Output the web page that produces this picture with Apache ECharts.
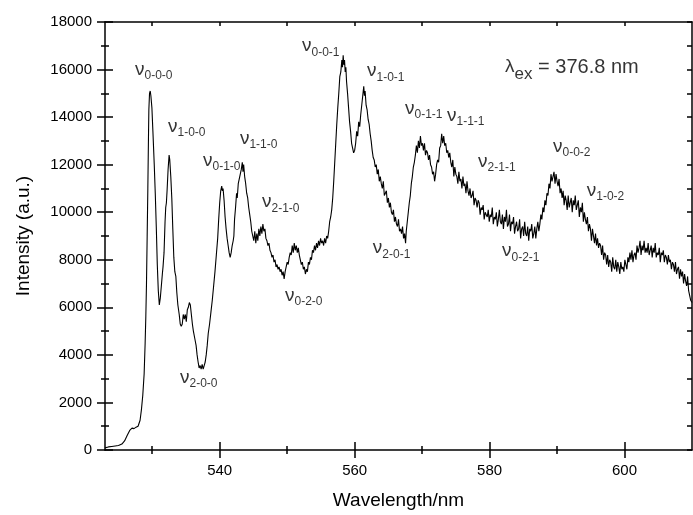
<!DOCTYPE html>
<html>
<head>
<meta charset="utf-8">
<script src="https://cdn.jsdelivr.net/npm/echarts@6/dist/echarts.min.js"></script>
<style>
  html, body { margin: 0; padding: 0; background: #fff; }
  #chart { width: 693px; height: 515px; }
</style>
</head>
<body>
<div id="chart"></div>
<script>
/* spectrum: [wavelength nm, intensity] */
const riseAndFirstBands = [
  [523.0, 90], [523.5, 130], [524.0, 150], [524.5, 170], [525.0, 190], [525.5, 250], [525.9, 380], [526.3, 620],
  [526.7, 840], [527.0, 920], [527.3, 900], [527.6, 960], [527.9, 1000], [528.2, 1250], [528.4, 1700], [528.6, 2300],
  [528.8, 3200], [528.95, 4500], [529.05, 5600], [529.15, 7000], [529.25, 9000], [529.35, 11000], [529.45, 13300],
  [529.5, 14300], [529.6, 15000], [529.7, 15100], [529.8, 14900], [529.95, 14400], [530.1, 13400], [530.3, 12000],
  [530.45, 10800], [530.6, 9400], [530.75, 7800], [530.9, 6700], [531.05, 6100], [531.2, 6400], [531.35, 6900],
  [531.5, 7400], [531.6, 7700], [531.75, 8300], [531.9, 9600], [532.0, 10200], [532.1, 10400], [532.2, 10900],
  [532.35, 11800], [532.5, 12400], [532.6, 12200], [532.75, 11500], [532.9, 10600], [533.05, 9300], [533.2, 8100],
  [533.35, 7500], [533.5, 7300], [533.65, 6600], [533.8, 6100], [534.0, 5700], [534.15, 5300], [534.3, 5200],
  [534.45, 5300], [534.6, 5700], [534.75, 5500], [534.9, 5700], [535.05, 5400], [535.2, 5900], [535.35, 6000],
  [535.5, 6200], [535.65, 6100], [535.8, 5700], [535.95, 5300], [536.1, 5000], [536.3, 4700], [536.5, 4400],
  [536.65, 4000], [536.8, 3700], [536.95, 3450], [537.1, 3550], [537.25, 3400], [537.4, 3600], [537.55, 3400],
  [537.7, 3550], [537.85, 3700], [538.0, 4000], [538.15, 4400], [538.3, 4900], [538.5, 5300], [538.7, 5800],
  [538.9, 6300], [539.1, 6900], [539.3, 7500], [539.5, 8200], [539.7, 8900], [539.85, 9700]
];

const secondGroup = [
  [540.0, 10400], [540.15, 10900], [540.3, 11100], [540.4, 10900], [540.5, 11000], [540.65, 10500], [540.8, 9800],
  [540.95, 9300], [541.1, 8900], [541.25, 8600], [541.4, 8300], [541.55, 8100], [541.7, 8300], [541.85, 8600],
  [542.0, 8800], [542.1, 9000], [542.2, 9700], [542.35, 10200], [542.5, 10800], [542.6, 10600], [542.75, 11200],
  [542.9, 11400], [543.05, 11600], [543.2, 11800], [543.35, 12100], [543.45, 11700], [543.55, 12000], [543.7, 11500],
  [543.85, 11200], [544.0, 10800], [544.15, 10600], [544.3, 10200], [544.45, 9900], [544.6, 9600], [544.75, 9200],
  [544.9, 9000], [545.05, 8800], [545.2, 9200], [545.35, 8700], [545.5, 9100], [545.65, 8800], [545.8, 9300],
  [545.95, 9000], [546.1, 9400], [546.25, 9100], [546.4, 9500], [546.55, 9200], [546.7, 9300], [546.85, 8900],
  [547.0, 8800], [547.15, 8600], [547.3, 8700], [547.45, 8400], [547.6, 8300], [547.75, 8100], [547.9, 8200],
  [548.05, 7900], [548.2, 8000], [548.35, 7700], [548.5, 7800], [548.65, 7600], [548.8, 7700], [548.95, 7500],
  [549.1, 7600], [549.25, 7350], [549.4, 7500], [549.55, 7200], [549.7, 7500], [549.85, 7700], [550.0, 7900],
  [550.15, 7800], [550.3, 8100], [550.45, 8300], [550.6, 8200], [550.75, 8600], [550.9, 8300], [551.05, 8700],
  [551.2, 8400], [551.35, 8600], [551.5, 8300], [551.65, 8500], [551.8, 8200], [551.95, 8000], [552.1, 7800],
  [552.25, 7900], [552.4, 7600], [552.55, 7700], [552.7, 7400], [552.85, 7600], [553.0, 7500], [553.15, 7900],
  [553.3, 7800], [553.45, 8100], [553.6, 8000], [553.75, 8400], [553.9, 8300], [554.05, 8600], [554.2, 8400],
  [554.35, 8700], [554.5, 8500], [554.65, 8800], [554.8, 8600], [554.95, 8900], [555.1, 8700], [555.25, 8800],
  [555.4, 8600], [555.55, 8900], [555.7, 8700], [555.85, 9000], [556.0, 8900], [556.15, 9200], [556.3, 9600],
  [556.45, 9800], [556.6, 10100], [556.75, 10600], [556.9, 11300]
];

const thirdGroup = [
  [557.05, 12100], [557.2, 12900], [557.35, 13700], [557.5, 14400], [557.65, 15000], [557.8, 15700], [557.95, 15900],
  [558.1, 16400], [558.2, 16100], [558.3, 16600], [558.4, 16200], [558.5, 16400], [558.6, 15900], [558.7, 16100],
  [558.8, 15500], [558.95, 15000], [559.1, 14400], [559.25, 13800], [559.4, 13400], [559.55, 12900], [559.7, 12700],
  [559.85, 12500], [560.0, 12600], [560.15, 12900], [560.3, 13400], [560.45, 13200], [560.6, 13800], [560.75, 13600],
  [560.9, 14100], [561.05, 14500], [561.2, 14900], [561.35, 15300], [561.45, 14900], [561.55, 15100], [561.7, 14500],
  [561.85, 14300], [562.0, 13900], [562.15, 13700], [562.3, 13300], [562.45, 13000], [562.6, 12600], [562.75, 12300],
  [562.9, 12200], [563.05, 11900], [563.2, 12000], [563.35, 11600], [563.5, 11800], [563.65, 11300], [563.8, 11500],
  [563.95, 11200], [564.1, 11000], [564.25, 11300], [564.4, 10700], [564.55, 10800], [564.7, 10900], [564.85, 10400],
  [565.0, 10600], [565.15, 10200], [565.3, 10400], [565.45, 10000], [565.6, 9900], [565.75, 10100], [565.9, 9600],
  [566.05, 9800], [566.2, 9500], [566.35, 9400], [566.5, 9700], [566.65, 9200], [566.8, 9300], [566.95, 9100],
  [567.1, 9400], [567.25, 8900], [567.4, 9100], [567.55, 8700], [567.65, 9200], [567.8, 9600], [567.95, 10000],
  [568.1, 10400], [568.25, 10700], [568.4, 11200], [568.55, 11500], [568.7, 11900], [568.85, 12100], [569.0, 12400],
  [569.15, 12800], [569.3, 12500], [569.45, 13000], [569.6, 12700], [569.75, 13200], [569.9, 12800], [570.05, 12900],
  [570.2, 12600], [570.35, 12900], [570.5, 12400], [570.65, 12600], [570.8, 12500], [570.95, 12200], [571.1, 12400],
  [571.25, 12000], [571.4, 11900], [571.55, 11600], [571.7, 11700], [571.85, 11300], [572.0, 11600], [572.15, 12000],
  [572.3, 12200], [572.45, 12100], [572.6, 12700], [572.75, 12800], [572.9, 13300], [573.05, 12900], [573.2, 13200],
  [573.35, 12800], [573.5, 12900], [573.65, 12500], [573.8, 12600], [573.95, 12300], [574.1, 12500], [574.25, 12100],
  [574.4, 11900], [574.55, 12200], [574.7, 11500], [574.85, 11900], [575.0, 11600], [575.15, 11500], [575.3, 11200],
  [575.45, 11700], [575.6, 11300], [575.75, 11400], [575.9, 11000], [576.05, 11500], [576.2, 11100], [576.35, 11200],
  [576.5, 10800], [576.65, 11300], [576.8, 10900], [576.95, 10700], [577.1, 11000], [577.25, 10600], [577.4, 10700],
  [577.55, 10900], [577.7, 10300], [577.85, 10600], [578.0, 10500], [578.15, 10200], [578.3, 10500], [578.45, 10400],
  [578.6, 9900], [578.75, 10200], [578.9, 10100], [579.05, 10300], [579.2, 9700], [579.35, 10000], [579.5, 9900],
  [579.65, 9800], [579.8, 10100], [579.95, 9600]
];

const tailGroup = [
  [580.1, 9900], [580.25, 9800], [580.4, 10200], [580.55, 9500], [580.7, 9800], [580.85, 9700], [581.0, 10000],
  [581.15, 9400], [581.3, 9700], [581.45, 10100], [581.6, 9600], [581.75, 9500], [581.9, 9900], [582.05, 9300],
  [582.2, 9800], [582.35, 9600], [582.5, 10100], [582.65, 9400], [582.8, 9500], [582.95, 9900], [583.1, 9200],
  [583.25, 9600], [583.4, 9500], [583.55, 9800], [583.7, 9100], [583.85, 9400], [584.0, 9600], [584.15, 9200],
  [584.3, 9300], [584.45, 9700], [584.6, 8900], [584.75, 9300], [584.9, 9400], [585.05, 9000], [585.2, 9600],
  [585.35, 9100], [585.5, 9000], [585.65, 9400], [585.8, 8800], [585.95, 9300], [586.1, 9200], [586.25, 9500],
  [586.4, 8900], [586.55, 9100], [586.7, 9400], [586.85, 8900], [587.0, 9300], [587.15, 9600], [587.3, 9200],
  [587.45, 9500], [587.6, 9900], [587.75, 9700], [587.9, 10200], [588.05, 10000], [588.2, 10500], [588.35, 10300],
  [588.5, 10800], [588.65, 10700], [588.8, 11200], [588.95, 11000], [589.1, 11600], [589.25, 11300], [589.4, 11500],
  [589.55, 11700], [589.7, 11200], [589.85, 11600], [590.0, 11300], [590.15, 11100], [590.3, 11400], [590.45, 10800],
  [590.6, 11000], [590.75, 10600], [590.9, 10900], [591.05, 10300], [591.2, 10700], [591.35, 10500], [591.5, 10100],
  [591.65, 10700], [591.8, 10200], [591.95, 10400], [592.1, 10600], [592.25, 10000], [592.4, 10500], [592.55, 10300],
  [592.7, 10700], [592.85, 10100], [593.0, 10300], [593.15, 10500], [593.3, 9800], [593.45, 10200], [593.6, 10000],
  [593.75, 10400], [593.9, 9600], [594.05, 10000], [594.2, 9700], [594.35, 9500], [594.5, 9800], [594.65, 9200],
  [594.8, 9500], [594.95, 9300], [595.1, 8800], [595.25, 9300], [595.4, 9000], [595.55, 8700], [595.7, 9100],
  [595.85, 8600], [596.0, 8900], [596.15, 8500], [596.3, 8700], [596.45, 8600], [596.6, 8200], [596.75, 8600],
  [596.9, 8000], [597.05, 8300], [597.2, 8200], [597.35, 7800], [597.5, 8200], [597.65, 7700], [597.8, 8000],
  [597.95, 7900], [598.1, 7500], [598.25, 8100], [598.4, 7700], [598.55, 7600], [598.7, 8000], [598.85, 7500],
  [599.0, 7900], [599.15, 7700], [599.3, 7400], [599.45, 7900], [599.6, 7600], [599.75, 7700], [599.9, 7500],
  [600.05, 8000], [600.2, 7800], [600.35, 7600], [600.5, 8100], [600.65, 7900], [600.8, 8300], [600.95, 8000],
  [601.1, 8400], [601.25, 7900], [601.4, 8200], [601.55, 8300], [601.7, 8000], [601.85, 8600], [602.0, 8300],
  [602.15, 8500], [602.3, 8800], [602.45, 8200], [602.6, 8600], [602.75, 8400], [602.9, 8800], [603.05, 8300],
  [603.2, 8500], [603.35, 8300], [603.5, 8700], [603.65, 8200], [603.8, 8400], [603.95, 8600], [604.1, 8100],
  [604.25, 8500], [604.4, 8300], [604.55, 8700], [604.7, 8100], [604.85, 8300], [605.0, 8200], [605.15, 8500],
  [605.3, 7900], [605.45, 8300], [605.6, 8200], [605.75, 8400], [605.9, 7900], [606.05, 8200], [606.2, 8100],
  [606.35, 7800], [606.5, 8200], [606.65, 7900], [606.8, 8000], [606.95, 7600], [607.1, 7900], [607.25, 7800],
  [607.4, 7500], [607.55, 7900], [607.7, 7400], [607.85, 7600], [608.0, 7700], [608.15, 7200], [608.3, 7600],
  [608.45, 7300], [608.6, 7500], [608.75, 7000], [608.9, 7400], [609.05, 7100], [609.2, 6900], [609.35, 7300],
  [609.5, 6700], [609.65, 6500], [609.8, 6300], [610.0, 6200]
];

/* band assignments and where they sit (left edge of the ν, in data units) */
const bandNames = ['0-0-0', '1-0-0', '0-1-0', '1-1-0', '2-1-0', '0-0-1', '1-0-1', '0-1-1',
  '1-1-1', '2-1-1', '0-0-2', '1-0-2', '2-0-0', '0-2-0', '2-0-1', '0-2-1'];
const bandX = [527.45, 532.34, 537.52, 543.0, 546.27, 552.2, 561.83, 567.46,
  573.69, 578.3, 589.4, 594.4, 534.12, 549.68, 562.7, 581.84];
const bandY = [16000, 13600, 12180, 13100, 10420, 16990, 15950, 14360,
  14060, 12140, 12770, 10920, 3050, 6490, 8500, 8370];

const excitation = { x: 582.3, y: 16100, text: '376.8 nm' };

/* ticks */
const xMajorTicks = [540, 560, 580, 600];
const xMinorTicks = [530, 550, 570, 590];
const xTopTicks = [530, 540, 550, 560, 570, 580, 590, 600];

const FONT = '"Liberation Sans", Arial, sans-serif';
const black = { color: '#000', width: 1.5 };

let myChart = echarts.init(document.getElementById('chart'));

let spectrum = riseAndFirstBands.concat(secondGroup, thirdGroup, tailGroup);

let labelPoints = bandNames.map((n, i) => ({
  value: [bandX[i], bandY[i]],
  label: { formatter: '{n|ν}{s|' + n + '}' }
}));
labelPoints.push({
  value: [excitation.x, excitation.y],
  label: { formatter: '{n|λ}{e|ex}{t| = ' + excitation.text + '}' }
});

function xAxisBase(extra) {
  return Object.assign({
    type: 'value',
    min: 523,
    max: 610,
    position: 'bottom',
    axisLine: { show: false, onZero: false, lineStyle: black },
    axisLabel: { show: false },
    splitLine: { show: false }
  }, extra);
}

function yAxisBase(extra) {
  return Object.assign({
    type: 'value',
    min: 0,
    max: 18000,
    interval: 2000,
    position: 'left',
    axisLine: { show: false, onZero: false, lineStyle: black },
    axisLabel: { show: false },
    splitLine: { show: false },
    minorSplitLine: { show: false }
  }, extra);
}

let option = {
  animation: false,
  backgroundColor: '#fff',
  grid: { left: 105, right: 1, top: 22, bottom: 63, containLabel: false },
  xAxis: [
    xAxisBase({
      axisLine: { show: true, onZero: false, lineStyle: black },
      axisTick: { show: true, inside: false, length: 8, customValues: xMajorTicks, lineStyle: black },
      axisLabel: { show: true, customValues: xMajorTicks, color: '#000', fontSize: 15, margin: 13, fontFamily: FONT },
      name: 'Wavelength/nm',
      nameLocation: 'middle',
      nameGap: 41,
      nameTextStyle: { color: '#000', fontSize: 19, fontFamily: FONT }
    }),
    xAxisBase({ axisTick: { show: true, inside: true, length: 8, customValues: xMajorTicks, lineStyle: black } }),
    xAxisBase({ axisTick: { show: true, inside: false, length: 4, customValues: xMinorTicks, lineStyle: black } }),
    xAxisBase({ axisTick: { show: true, inside: true, length: 4, customValues: xMinorTicks, lineStyle: black } }),
    xAxisBase({
      position: 'top',
      axisLine: { show: true, onZero: false, lineStyle: black },
      axisTick: { show: true, inside: true, length: 4, customValues: xTopTicks, lineStyle: black }
    })
  ],
  yAxis: [
    yAxisBase({
      axisLine: { show: true, onZero: false, lineStyle: black },
      axisTick: { show: true, inside: false, length: 8, lineStyle: black },
      minorTick: { show: true, splitNumber: 2, length: 4, lineStyle: black },
      axisLabel: {
        show: true, color: '#000', fontSize: 15, margin: 13, fontFamily: FONT,
        formatter: (v) => String(v)
      },
      name: 'Intensity (a.u.)',
      nameLocation: 'middle',
      nameGap: 72,
      nameRotate: 90,
      nameTextStyle: { color: '#000', fontSize: 19, fontFamily: FONT }
    }),
    yAxisBase({
      axisTick: { show: true, inside: true, length: 8, lineStyle: black },
      minorTick: { show: true, splitNumber: 2, length: 4, lineStyle: black }
    }),
    yAxisBase({
      position: 'right',
      interval: 1000,
      axisLine: { show: true, onZero: false, lineStyle: black },
      axisTick: { show: true, inside: true, length: 5, lineStyle: black }
    })
  ],
  series: [
    {
      type: 'line',
      data: spectrum,
      showSymbol: false,
      symbol: 'none',
      lineStyle: { color: '#000', width: 1.1 },
      z: 3
    },
    {
      type: 'scatter',
      data: labelPoints,
      symbolSize: 0,
      silent: true,
      label: {
        show: true,
        position: [0, 0],
        align: 'left',
        verticalAlign: 'middle',
        color: '#000',
        fontFamily: FONT,
        rich: {
          n: { fontSize: 19, color: '#000', fontFamily: FONT },
          s: { fontSize: 12, color: '#000', fontFamily: FONT, padding: [13, 0, 0, 0] },
          e: { fontSize: 17, color: '#000', fontFamily: FONT, padding: [14, 0, 0, 0] },
          t: { fontSize: 20, color: '#000', fontFamily: FONT }
        }
      },
      z: 4
    }
  ]
};

myChart.setOption(option);
</script>
</body>
</html>
